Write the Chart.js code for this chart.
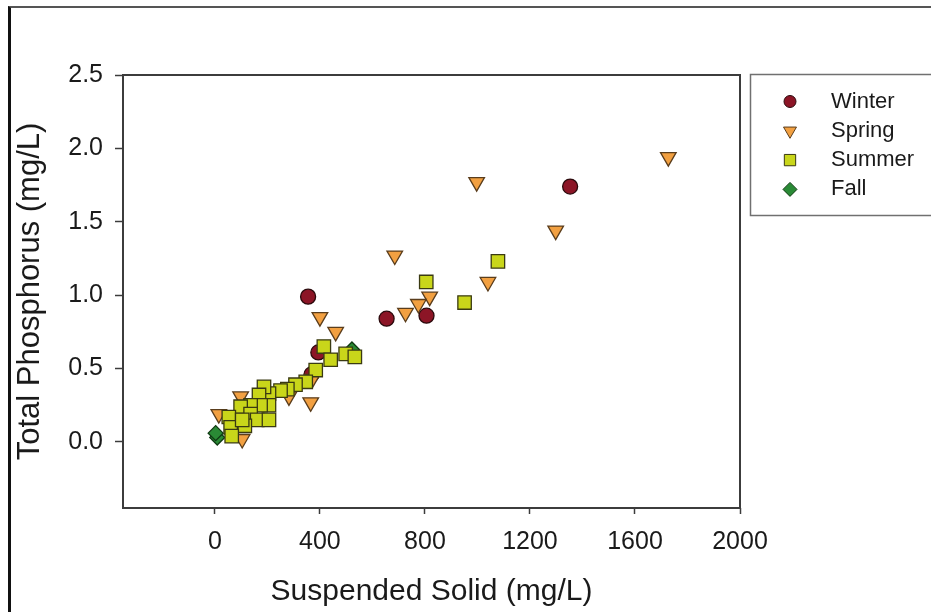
<!DOCTYPE html>
<html>
<head>
<meta charset="utf-8">
<script src="https://cdn.jsdelivr.net/npm/chart.js@4"></script>
<style>
    html, body { margin: 0; padding: 0; background: #fff; }
    #wrap { position: relative; width: 931px; height: 612px; overflow: hidden; background: #fff; }
    #frame {
        position: absolute; left: 8px; top: 6px; width: 940px; height: 620px;
        border-top: 2px solid #555; border-left: 3px solid #111;
    }
    #chart { position: absolute; left: 0; top: 0; }
</style>
</head>
<body>
<div id="wrap">
    <div id="frame"></div>
    <canvas id="chart" width="931" height="612"></canvas>
</div>
<script>
// Suspended solid (mg/L) vs total phosphorus (mg/L), per season
const winterSS = [355, 654, 806, 1353, 394, 368];
const winterTP = [0.99, 0.84, 0.86, 1.74, 0.61, 0.46];

const springSS = [1727, 997, 1298, 685, 1040, 818, 775, 726, 400, 460, 371, 365, 282, 98, 15, 104];
const springTP = [1.94, 1.77, 1.44, 1.27, 1.09, 0.99, 0.94, 0.88, 0.85, 0.75, 0.43, 0.27, 0.31, 0.31, 0.19, 0.02];

const summerSS = [1078, 805, 951, 415, 441, 498, 533, 384, 346, 307, 276, 250, 206, 187, 168, 206, 174, 136, 98, 136, 53, 161, 206, 114, 60, 64, 104];
const summerTP = [1.23, 1.09, 0.95, 0.65, 0.56, 0.60, 0.58, 0.49, 0.41, 0.39, 0.36, 0.35, 0.33, 0.375, 0.32, 0.25, 0.25, 0.25, 0.24, 0.19, 0.17, 0.15, 0.15, 0.11, 0.10, 0.04, 0.15];

const fallSS = [522, 9, 3];
const fallTP = [0.63, 0.03, 0.06];

const xTicks = [0, 400, 800, 1200, 1600, 2000];
const yTicks = [0.0, 0.5, 1.0, 1.5, 2.0, 2.5];

const FONT = "'Liberation Sans', Arial, sans-serif";

function toPoints(xs, ys) {
    return xs.map((x, i) => ({ x: x, y: ys[i] }));
}

const datasets = [
    {
        label: 'Winter',
        data: toPoints(winterSS, winterTP),
        pointStyle: 'circle',
        pointRadius: 7.5,
        backgroundColor: '#8c1526',
        borderColor: '#2b0a0d',
        legendRadius: 6,
        order: 3
    },
    {
        label: 'Spring',
        data: toPoints(springSS, springTP),
        pointStyle: 'triangle',
        rotation: 180,
        pointRadius: 9,
        backgroundColor: '#f2a041',
        borderColor: '#5a3d1c',
        legendRadius: 7.5,
        order: 2
    },
    {
        label: 'Summer',
        data: toPoints(summerSS, summerTP),
        pointStyle: 'rect',
        pointRadius: 9.5,
        backgroundColor: '#c9d61a',
        borderColor: '#3a3a12',
        legendRadius: 8,
        order: 1
    },
    {
        label: 'Fall',
        data: toPoints(fallSS, fallTP),
        pointStyle: 'rectRot',
        pointRadius: 7.5,
        backgroundColor: '#2a8a35',
        borderColor: '#0f3a12',
        legendRadius: 7,
        order: 4
    }
];

datasets.forEach((ds) => {
    ds.pointBackgroundColor = ds.backgroundColor;
    ds.pointBorderColor = ds.borderColor;
    ds.pointBorderWidth = 1.3;
    ds.pointRotation = ds.rotation || 0;
    ds.pointHoverRadius = ds.pointRadius;
    ds.showLine = false;
});

// box around the plot area
const frameBox = {
    id: 'frameBox',
    beforeDatasetsDraw(chart) {
        const { ctx, chartArea: a } = chart;
        ctx.save();
        ctx.strokeStyle = '#3c3c3c';
        ctx.lineWidth = 2;
        ctx.strokeRect(a.left, a.top, a.right - a.left, a.bottom - a.top);
        ctx.restore();
    }
};

// legend box at the top right
const seasonLegend = {
    id: 'seasonLegend',
    afterDraw(chart) {
        const ctx = chart.ctx;
        ctx.save();
        ctx.strokeStyle = '#707070';
        ctx.lineWidth = 1.5;
        ctx.strokeRect(750.5, 74.5, 200, 141);
        chart.data.datasets.forEach((ds, i) => {
            const y = 101.5 + i * 29.3;
            ctx.fillStyle = ds.backgroundColor;
            ctx.strokeStyle = ds.borderColor;
            ctx.lineWidth = 1;
            Chart.helpers.drawPoint(ctx, {
                pointStyle: ds.pointStyle,
                rotation: ds.rotation || 0,
                radius: ds.legendRadius,
                borderWidth: 1
            }, 790, y);
            ctx.fillStyle = '#1a1a1a';
            ctx.font = '22px ' + FONT;
            ctx.textAlign = 'left';
            ctx.textBaseline = 'middle';
            ctx.fillText(ds.label, 831, y);
        });
        ctx.restore();
    }
};

new Chart(document.getElementById('chart').getContext('2d'), {
    type: 'scatter',
    data: { datasets: datasets },
    options: {
        responsive: false,
        animation: false,
        events: [],
        layout: {
            padding: { left: 0, top: 75, right: 191, bottom: 0 }
        },
        plugins: {
            legend: { display: false },
            tooltip: { enabled: false }
        },
        scales: {
            x: {
                type: 'linear',
                min: -350,
                max: 2000,
                afterFit(scale) { scale.height = 104; },
                afterBuildTicks(scale) { scale.ticks = xTicks.map((v) => ({ value: v })); },
                border: { display: false },
                grid: {
                    drawOnChartArea: false,
                    drawTicks: true,
                    tickLength: 6,
                    tickColor: '#3c3c3c',
                    tickWidth: 1.5
                },
                ticks: {
                    padding: 13,
                    color: '#1a1a1a',
                    font: { family: FONT, size: 25 },
                    maxRotation: 0,
                    callback: (v) => String(v)
                },
                title: {
                    display: true,
                    text: 'Suspended Solid (mg/L)',
                    color: '#1a1a1a',
                    font: { family: FONT, size: 30 },
                    padding: { top: 0, bottom: 2.5 }
                }
            },
            y: {
                type: 'linear',
                min: -0.45,
                max: 2.5,
                afterFit(scale) { scale.width = 123; },
                afterBuildTicks(scale) { scale.ticks = yTicks.map((v) => ({ value: v })); },
                border: { display: false },
                grid: {
                    drawOnChartArea: false,
                    drawTicks: true,
                    tickLength: 8,
                    tickColor: '#3c3c3c',
                    tickWidth: 1.5
                },
                ticks: {
                    padding: 12,
                    color: '#1a1a1a',
                    font: { family: FONT, size: 25 },
                    callback: (v) => Number(v).toFixed(1)
                },
                title: {
                    display: true,
                    text: 'Total Phosphorus (mg/L)',
                    color: '#1a1a1a',
                    font: { family: FONT, size: 31 },
                    padding: { top: 12, bottom: 0 }
                }
            }
        }
    },
    plugins: [frameBox, seasonLegend]
});
</script>
</body>
</html>
